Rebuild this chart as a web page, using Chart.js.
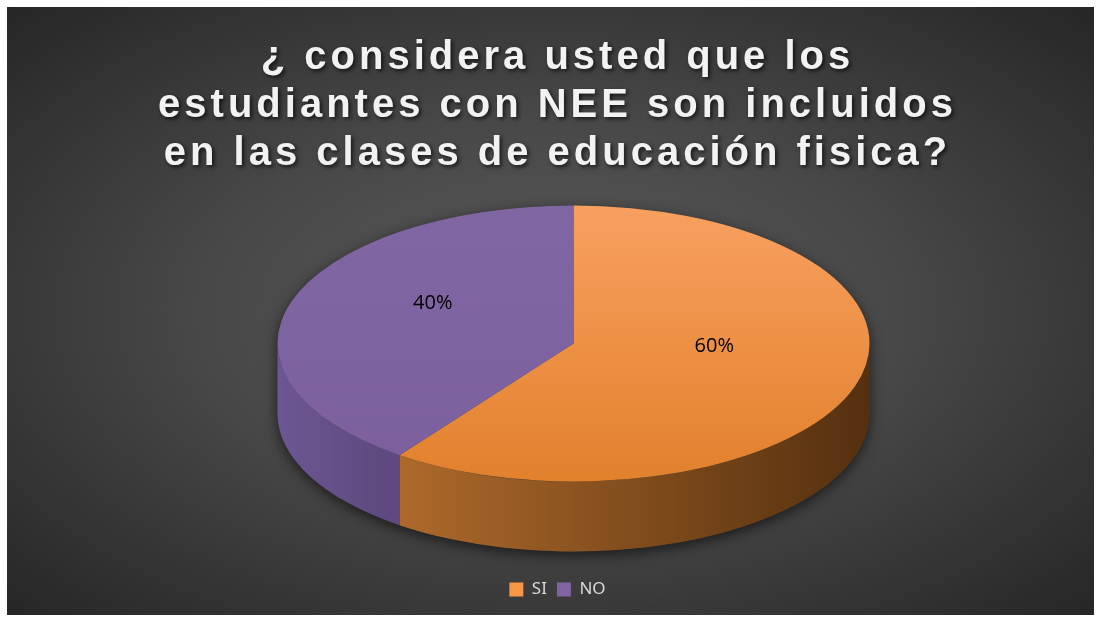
<!DOCTYPE html>
<html>
<head>
<meta charset="utf-8">
<script src="https://cdn.jsdelivr.net/npm/chart.js@4"></script>
<style>
  html, body { margin: 0; padding: 0; background: #fff; }
  #wrap {
    position: absolute; left: 7px; top: 7px; width: 1087px; height: 608px;
    background: radial-gradient(ellipse farthest-corner at 50% 50%, #5a5a5a 0%, #484848 45%, #262626 100%);
  }
</style>
</head>
<body>
<div id="wrap"><canvas id="myChart"></canvas></div>
<script>
const labels = ["SI", "NO"];
const values = [60, 40];
const titleLines = [
  "¿ considera usted que los",
  "estudiantes con NEE son incluidos",
  "en las clases de educación fisica?",
];
const faceTop = ["#F8A060", "#8066A3"];
const faceBottom = ["#E2812C", "#7B609D"];
const sideStops = [
  [[0, "#C47831"], [1, "#55300F"]],
  [[0, "#6D5793"], [0.17, "#5E4A80"]],
];
const legendColors = ["#F79646", "#8064A2"];

// fake 3d view
const RX = 296, RY = 138, DEPTH = 70, SHIFT_X = 16, SHIFT_Y = -35, LABEL_DY = -19;

function geom(chart) {
  const arc = chart.getDatasetMeta(0).data[0];
  return { x: arc.x, y: arc.y, r: arc.outerRadius, cx: arc.x + SHIFT_X, cy: arc.y + SHIFT_Y };
}

const pie3d = {
  id: "pie3d",
  beforeDatasetsDraw(chart) {
    const ctx = chart.ctx;
    const g = geom(chart);
    const arcs = chart.getDatasetMeta(0).data;

    // drop shadow under the pie
    ctx.save();
    ctx.shadowColor = "rgba(0,0,0,0.6)";
    ctx.shadowBlur = 14;
    ctx.shadowOffsetY = 4;
    ctx.fillStyle = "#3a3a3a";
    ctx.beginPath();
    ctx.ellipse(g.cx, g.cy + DEPTH, RX, RY, 0, 0, Math.PI);
    ctx.lineTo(g.cx - RX, g.cy);
    ctx.ellipse(g.cx, g.cy, RX, RY, 0, Math.PI, 2 * Math.PI);
    ctx.closePath();
    ctx.fill();
    ctx.restore();

    // side walls (front half only)
    const TWO = Math.PI * 2;
    arcs.forEach((a, i) => {
      const s = ((a.startAngle % TWO) + TWO) % TWO;
      const e = s + (a.endAngle - a.startAngle);
      for (const base of [0, TWO]) {
        const vs = Math.max(s, base);
        const ve = Math.min(e, base + Math.PI);
        if (ve <= vs) continue;
        const grad = ctx.createLinearGradient(g.cx - RX, 0, g.cx + RX, 0);
        sideStops[i].forEach(st => grad.addColorStop(st[0], st[1]));
        ctx.beginPath();
        ctx.ellipse(g.cx, g.cy, RX, RY, 0, vs, ve);
        ctx.ellipse(g.cx, g.cy + DEPTH, RX, RY, 0, ve, vs, true);
        ctx.closePath();
        ctx.fillStyle = grad;
        ctx.fill();
      }
    });

    // squash the top face into an ellipse
    ctx.save();
    ctx.translate(g.cx, g.cy);
    ctx.scale(RX / g.r, RY / g.r);
    ctx.translate(-g.x, -g.y);
  },
  afterDatasetsDraw(chart) {
    const ctx = chart.ctx;
    ctx.restore();
    const g = geom(chart);
    const total = values.reduce((s, v) => s + v, 0);
    ctx.save();
    ctx.font = '20px "Open Sans"';
    ctx.fillStyle = "#000";
    ctx.textAlign = "center";
    ctx.textBaseline = "middle";
    chart.getDatasetMeta(0).data.forEach((a, i) => {
      const p = a.tooltipPosition(true);
      const px = g.cx + (p.x - g.x) * RX / g.r;
      const py = g.cy + (p.y - g.y) * RY / g.r + LABEL_DY;
      ctx.fillText(Math.round(values[i] / total * 100) + "%", px, py);
    });
    ctx.restore();
  },
};

const titleStyle = {
  id: "titleStyle",
  beforeDraw(chart) {
    const tb = chart.titleBlock;
    if (!tb || tb._styled) return;
    const orig = tb.draw;
    tb.draw = function () {
      const ctx = this.ctx;
      ctx.save();
      ctx.letterSpacing = "4px";
      ctx.shadowColor = "rgba(0,0,0,0.7)";
      ctx.shadowBlur = 4;
      ctx.shadowOffsetX = 2;
      ctx.shadowOffsetY = 2;
      orig.apply(this, arguments);
      ctx.restore();
    };
    tb._styled = true;
  },
};

function faceColor(c) {
  const chart = c.chart;
  const ca = chart.chartArea;
  if (!ca) return faceTop[c.dataIndex];
  const grad = chart.ctx.createLinearGradient(0, ca.top, 0, ca.bottom);
  grad.addColorStop(0, faceTop[c.dataIndex]);
  grad.addColorStop(1, faceBottom[c.dataIndex]);
  return grad;
}

const ctx = document.getElementById("myChart");
new Chart(ctx, {
  type: "pie",
  data: {
    labels: labels,
    datasets: [{ data: values, backgroundColor: faceColor, borderWidth: 0 }],
  },
  plugins: [pie3d, titleStyle],
  options: {
    responsive: true,
    maintainAspectRatio: false,
    animation: false,
    layout: { padding: { top: 27, left: 14, bottom: 7 } },
    plugins: {
      tooltip: { enabled: false },
      title: {
        display: true,
        text: titleLines,
        color: "#F2F2F2",
        font: { family: '"Liberation Sans"', size: 40, weight: "bold", lineHeight: 1.2 },
        padding: { top: 0, bottom: 8 },
      },
      legend: {
        position: "bottom",
        labels: {
          color: "#D9D9D9",
          font: { family: '"Noto Sans"', size: 17 },
          boxWidth: 14,
          boxHeight: 14,
          padding: 10,
          generateLabels: () => labels.map((l, i) => ({
            text: l, fillStyle: legendColors[i], strokeStyle: legendColors[i],
            fontColor: "#D9D9D9", lineWidth: 0, index: i,
          })),
        },
      },
    },
  },
});
</script>
</body>
</html>
